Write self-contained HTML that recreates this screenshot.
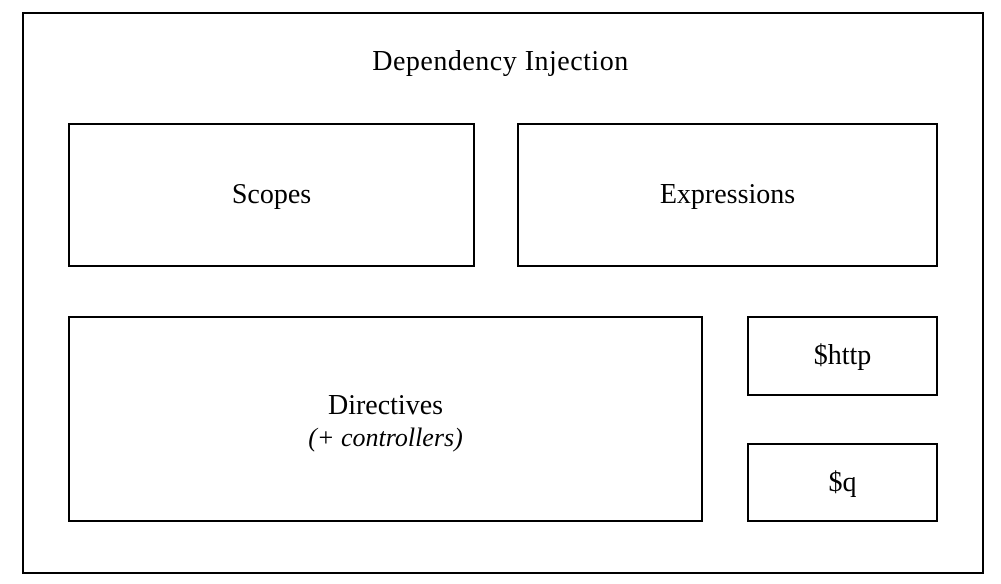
<!DOCTYPE html>
<html><head><style>
body{margin:0;width:1001px;height:584px;background:#fff;position:relative;font-family:"Liberation Serif",serif;color:#000;overflow:hidden}
.b{position:absolute;border:2px solid #000;box-sizing:border-box;display:flex;flex-direction:column;align-items:center;justify-content:center;font-size:28px;text-align:center;line-height:1.2}
.t{position:absolute;left:0;width:1001px;text-align:center;top:46px;font-size:28px;letter-spacing:0.5px}
</style></head><body>
<div class="b" style="left:22px;top:12px;width:962px;height:562px"></div>
<div class="t">Dependency Injection</div>
<div class="b" style="left:68px;top:123px;width:407px;height:144px">Scopes</div>
<div class="b" style="left:517px;top:123px;width:421px;height:144px">Expressions</div>
<div class="b" style="left:68px;top:316px;width:635px;height:206px;padding-top:4px"><div>Directives</div><div style="font-style:italic;font-size:26px">(+ controllers)</div></div>
<div class="b" style="left:747px;top:316px;width:191px;height:80px">$http</div>
<div class="b" style="left:747px;top:443px;width:191px;height:79px">$q</div>
</body></html>
